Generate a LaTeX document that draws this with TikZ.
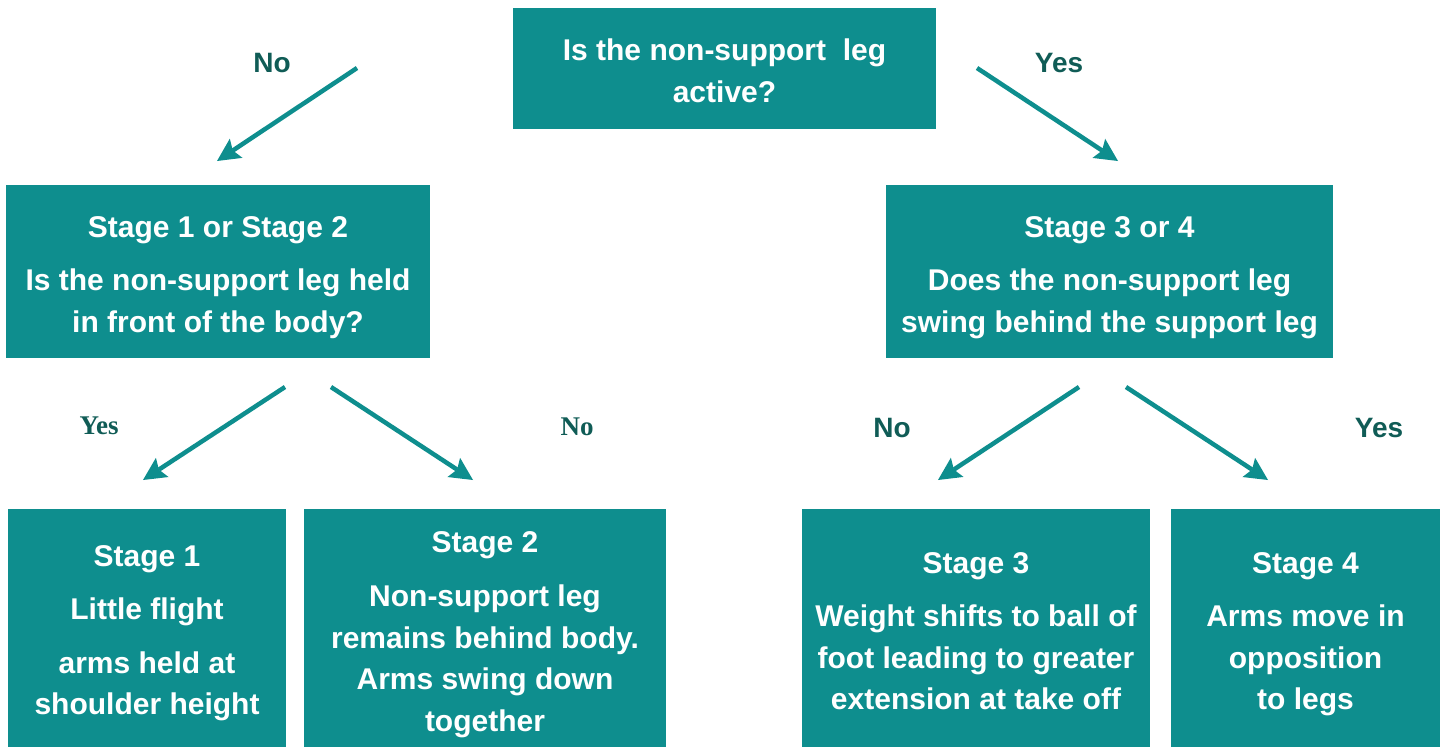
\documentclass[tikz,border=0pt]{standalone}
\usepackage{fontspec}
\setmainfont{Liberation Sans}
\newfontfamily\labelserif{Liberation Serif}
\usetikzlibrary{arrows.meta,positioning}
\definecolor{boxteal}{RGB}{14,142,142}
\definecolor{labelteal}{RGB}{16,92,86}
\newcommand{\topgap}[1]{\rule{0pt}{#1}}
\tikzset{
    stagebox/.style={fill=boxteal, text=white, align=center, inner sep=0pt,
        font=\fontsize{30}{41.5}\selectfont\bfseries},
    choice/.style={text=labelteal, font=\fontsize{28}{30}\selectfont\bfseries},
    serifchoice/.style={text=labelteal, font=\labelserif\fontsize{27}{30}\selectfont\bfseries},
    flow/.style={draw=boxteal, line width=4.5pt,
        -{Stealth[length=23pt,width=23pt,inset=4pt,line width=0pt,fill=boxteal]}}
}

\begin{document}
\begin{tikzpicture}[x=1pt,y=-1pt]
    \useasboundingbox (0,0) rectangle (1451,747);
    % question boxes
    \node[stagebox, minimum width=423pt, minimum height=121pt] at (724.5,68.5) (activeQ) {\topgap{26pt}Is the non-support\ \ leg\\active?};
    \node[stagebox, minimum width=424pt, minimum height=173pt] at (218,271.5) (frontQ) {\topgap{33pt}Stage 1 or Stage 2\\[11.5pt]Is the non-support leg held\\in front of the body?};
    \node[stagebox, minimum width=447pt, minimum height=173pt] at (1109.5,271.5) (behindQ) {\topgap{33pt}Stage 3 or 4\\[11.5pt]Does the non-support leg\\swing behind the support leg};
    % stage boxes
    \node[stagebox, minimum width=278pt, minimum height=238pt] at (147,628) (stageOne) {\topgap{32pt}Stage 1\\[11.5pt]Little flight\\[12pt]arms held at\\shoulder height};
    \node[stagebox, minimum width=362pt, minimum height=238pt] at (485,628) (stageTwo) {\topgap{34pt}Stage 2\\[13pt]Non-support leg\\remains behind body.\\Arms swing down\\together};
    \node[stagebox, minimum width=348pt, minimum height=238pt] at (976,628) (stageThree) {\topgap{28pt}Stage 3\\[11.5pt]Weight shifts to ball of\\foot leading to greater\\extension at take off};
    \node[stagebox, minimum width=269pt, minimum height=238pt] at (1305.5,628) (stageFour) {\topgap{34pt}Stage 4\\[11.5pt]Arms move in\\opposition\\to legs};
    % arrow ends
    \coordinate (noFrom) at (357,68);
    \coordinate (noTo) at (217,161);
    \coordinate (yesFrom) at (977,68);
    \coordinate (yesTo) at (1118,161);
    \coordinate (oneFrom) at (285,387);
    \coordinate (oneTo) at (143,480);
    \coordinate (twoFrom) at (331,387);
    \coordinate (twoTo) at (473,480);
    \coordinate (threeFrom) at (1079,387);
    \coordinate (threeTo) at (938,480);
    \coordinate (fourFrom) at (1126,387);
    \coordinate (fourTo) at (1268,480);
    \path
    (noFrom) edge[flow] (noTo)
    (yesFrom) edge[flow] (yesTo)
    (oneFrom) edge[flow] (oneTo)
    (twoFrom) edge[flow] (twoTo)
    (threeFrom) edge[flow] (threeTo)
    (fourFrom) edge[flow] (fourTo)
    ;
    % answers
    \node[choice] at (272,63) (noTop) {No};
    \node[choice] at (1059,63) (yesTop) {Yes};
    \node[serifchoice] at (99,426) (yesLeft) {Yes};
    \node[serifchoice] at (577,427) (noLeft) {No};
    \node[choice] at (892,428) (noRight) {No};
    \node[choice] at (1379,428) (yesRight) {Yes};
\end{tikzpicture}
\end{document}
